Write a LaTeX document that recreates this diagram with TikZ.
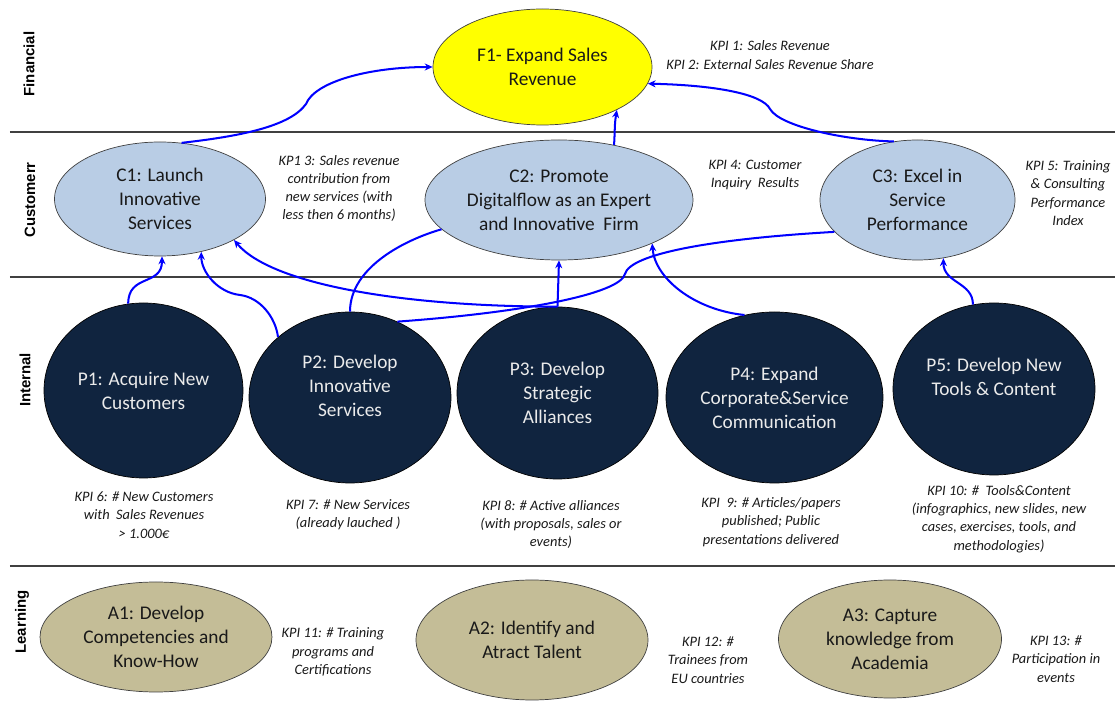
\documentclass[tikz,border=0pt]{standalone}
\usepackage{fontspec}
\setmainfont{Carlito}
\newfontfamily\lanefont{Liberation Sans}
\usetikzlibrary{shapes.geometric, arrows, arrows.meta}

\definecolor{finyellow}{HTML}{FFFF00}
\definecolor{custblue}{HTML}{B9CDE5}
\definecolor{procnavy}{HTML}{10243F}
\definecolor{learntan}{HTML}{C4BD97}

\tikzset{
    fin/.style = {ellipse, draw=black!75, fill=finyellow, inner sep=0pt, align=center, text=black!90, font=\fontsize{11}{13.7}\selectfont},
    cust/.style = {ellipse, draw=black!75, fill=custblue, inner sep=0pt, align=center, text=black!90, font=\fontsize{11}{13.7}\selectfont},
    proc/.style = {ellipse, draw=black, fill=procnavy, inner sep=0pt, align=center, text=white!92!black, font=\fontsize{11}{13.7}\selectfont},
    learn/.style = {ellipse, draw=black!75, fill=learntan, inner sep=0pt, align=center, text=black!90, font=\fontsize{11}{13.7}\selectfont},
    kpi/.style = {align=center, text=black!90, font=\fontsize{8.2}{10.4}\selectfont\itshape},
    lane/.style = {rotate=90, font=\lanefont\bfseries\fontsize{8.5}{10}\selectfont},
    divider/.style = {draw=black!75, line width=0.8pt},
    arrow/.style = {line width=1.15pt, blue, ->, >={Stealth[length=4.5pt, width=4pt]}},
    link/.style = {line width=1.15pt, blue}
}

\begin{document}
\begin{tikzpicture}

\useasboundingbox (0,0) rectangle (22.3,14.08);

% --- PERSPECTIVE LANES ---
\draw [divider] (0.2,11.44) -- (22.3,11.44);
\draw [divider] (0.2,8.54) -- (22.3,8.54);
\draw [divider] (0.2,2.76) -- (22.3,2.76);

\node (lfin) [lane] at (0.58,12.80) {Financial};
\node (lcust) [lane] at (0.60,10.08) {Customerr};
\node (lint) [lane] at (0.50,6.48) {Internal};
\node (llearn) [lane] at (0.44,1.64) {Learning};

% --- FINANCIAL ---
\node (f1) [fin, minimum width=4.38cm, minimum height=2.32cm] at (10.85,12.74) {F1- Expand Sales\\ Revenue};
\node (kpi1) [kpi] at (15.40,12.98) {KPI 1: Sales Revenue\\ KPI 2: External Sales Revenue Share};

% --- CUSTOMER ---
\node (c1) [cust, minimum width=4.22cm, minimum height=2.28cm] at (3.20,10.10) {C1: Launch\\ Innovative\\ Services};
\node (c2) [cust, minimum width=5.36cm, minimum height=2.40cm, inner xsep=-3mm] at (11.18,10.08) {C2: Promote\\ Digitalflow as an Expert\\ and Innovative\ \ Firm};
\node (c3) [cust, minimum width=3.90cm, minimum height=2.40cm] at (18.35,10.08) {C3: Excel in\\ Service\\ Performance};

\node (kpi3) [kpi] at (6.78,10.31) {KP1 3: Sales revenue\\ contribution from\\ new services (with\\ less then 6 months)};
\node (kpi4) [kpi] at (15.10,10.58) {KPI 4: Customer\\ Inquiry\ \ Results};
\node (kpi5) [kpi] at (21.36,10.22) {KPI 5: Training\\ \& Consulting\\ Performance\\ Index};

% --- INTERNAL ---
\node (p1) [proc, minimum width=3.98cm, minimum height=3.50cm] at (2.87,6.27) {P1: Acquire New\\ Customers};
\node (p2) [proc, minimum width=4.04cm, minimum height=3.42cm] at (7.00,6.13) {P2: Develop\\ Innovative\\ Services\\ \mbox{}};
\node (p3) [proc, minimum width=4.02cm, minimum height=3.44cm] at (11.15,6.22) {P3: Develop\\ Strategic\\ Alliances};
\node (p4) [proc, minimum width=4.34cm, minimum height=3.42cm] at (15.49,6.13) {P4: Expand\\ Corporate\&Service\\ Communication};
\node (p5) [proc, minimum width=4.04cm, minimum height=3.44cm] at (19.88,6.30) {P5: Develop New\\ Tools \& Content\\ \mbox{}};

\node (kpi6) [kpi] at (2.88,3.78) {KPI 6: \# New Customers\\ with\ \ Sales Revenues\\ > 1.000€};
\node (kpi7) [kpi] at (6.96,3.79) {KPI 7: \# New Services\\ (already lauched )};
\node (kpi8) [kpi] at (11.02,3.59) {KPI 8: \# Active alliances\\ (with proposals, sales or\\ events)};
\node (kpi9) [kpi] at (15.42,3.64) {KPI\ \ 9: \# Articles/papers\\ published; Public\\ presentations delivered};
\node (kpi10) [kpi] at (19.98,3.70) {KPI 10: \#\ \ Tools\&Content\\ (infographics, new slides, new\\ cases, exercises, tools, and\\ methodologies)};

% --- LEARNING ---
\node (a1) [learn, minimum width=4.64cm, minimum height=2.20cm] at (3.12,1.34) {A1: Develop\\ Competencies and\\ Know-How};
\node (a2) [learn, minimum width=4.64cm, minimum height=2.40cm] at (10.64,1.28) {A2: Identify and\\ Atract Talent};
\node (a3) [learn, minimum width=4.46cm, minimum height=2.36cm] at (17.80,1.30) {A3: Capture\\ knowledge from\\ Academia};

\node (kpi11) [kpi] at (6.66,1.04) {KPI 11: \# Training\\ programs and\\ Certifications};
\node (kpi12) [kpi] at (14.16,0.88) {KPI 12: \#\\ Trainees from\\ EU countries};
\node (kpi13) [kpi] at (21.12,0.90) {KPI 13: \#\\ Participation in\\ events};

% --- CONNECTIONS ---

% Customer to Financial
\draw [arrow] (c1.69) .. controls +(1.16,0.13) and +(-0.32,-0.45) .. (6.12,12.0)
    .. controls +(0.18,0.45) and +(-1.26,0) .. (f1.west);
\draw [arrow] (c2.45) .. controls +(0.02,0.3) and +(-0.05,-0.3) .. (f1.-30);
\draw [arrow] (c3.112) .. controls +(-0.96,0.02) and +(0.2,-0.35) .. (15.4,11.9)
    .. controls +(-0.15,0.3) and +(1.35,-0.03) .. (f1.-9);

% Internal to Customer
\draw [arrow] (p1.100) .. controls +(0,0.6) and +(0,-0.6) .. (c1.-88);
\draw [arrow] (p2.140) .. controls +(-0.05,0.4) and +(0.4,-0.05) .. (4.8,8.18)
    .. controls +(-0.45,0.05) and +(0,-0.4) .. (c1.-52);
\draw [arrow] (p3.north) .. controls +(-3.14,0) and +(0.74,-0.88) .. (c1.-29);
\draw [arrow] (p3.north) -- (c2.south);
\draw [arrow] (p4.110) .. controls +(-1.0,0.1) and +(0.05,-0.7) .. (c2.-25);
\draw [arrow] (p5.104) .. controls +(0,0.45) and +(0,-0.5) .. (c3.-66);

% Links without tips
\draw [link] (p2.north) .. controls +(0,0.9) and +(-0.7,-0.2) .. (c2.194);
\draw [link] (c3.201) .. controls +(-2.46,-0.14) and +(0.1,0.4) .. (12.5,8.6)
    .. controls +(-0.1,-0.4) and +(2.5,0.18) .. (p2.58);

\end{tikzpicture}
\end{document}
